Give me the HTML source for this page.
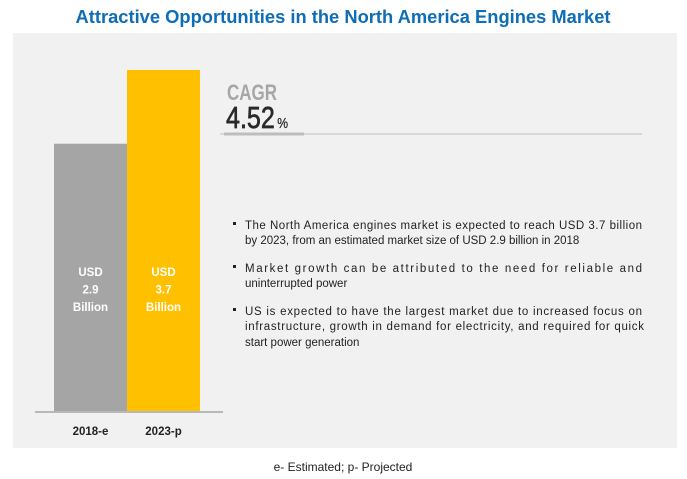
<!DOCTYPE html>
<html><head><meta charset="utf-8"><style>
html,body{margin:0;padding:0;background:#fff;}
svg{display:block;font-family:"Liberation Sans",sans-serif;}
</style></head><body>
<svg id="chart" width="687" height="479" viewBox="0 0 687 479">
<text x="343" y="23" text-anchor="middle" font-size="18" font-weight="bold" fill="#0d6db7" textLength="535" lengthAdjust="spacingAndGlyphs">Attractive Opportunities in the North America Engines Market</text>
<rect x="13" y="33" width="664" height="415" fill="#f1f1f1"/>
<g id="bars"></g>
<line x1="35" y1="412" x2="223" y2="412" stroke="#a6a6a6" stroke-width="1.5"/>
<text x="227" y="100" font-size="22" font-weight="bold" fill="#a6a6a6" textLength="50" lengthAdjust="spacingAndGlyphs">CAGR</text>
<text x="226" y="128" font-size="31" fill="#2a2a2a" stroke="#2a2a2a" stroke-width="0.7" textLength="62" lengthAdjust="spacingAndGlyphs">4.52<tspan font-size="15" stroke-width="0.3" dx="3">%</tspan></text>
<line x1="220" y1="134" x2="642" y2="134" stroke="#c0c0c0" stroke-width="1"/>
<line x1="224" y1="134" x2="304" y2="134" stroke="#bdbdbd" stroke-width="3"/>
<g font-size="11.5" fill="#222">
<rect x="233" y="222" width="3" height="3" fill="#222"/>
<text x="245" y="229" textLength="397" lengthAdjust="spacing">The North America engines market is expected to reach USD 3.7 billion</text>
<text x="245" y="244">by 2023, from an estimated market size of USD 2.9 billion in 2018</text>
<rect x="233" y="265" width="3" height="3" fill="#222"/>
<text x="245" y="272" textLength="397" lengthAdjust="spacing">Market growth can be attributed to the need for reliable and</text>
<text x="245" y="287">uninterrupted power</text>
<rect x="233" y="308" width="3" height="3" fill="#222"/>
<text x="245" y="315" textLength="397" lengthAdjust="spacing">US is expected to have the largest market due to increased focus on</text>
<text x="245" y="330" textLength="399" lengthAdjust="spacing">infrastructure, growth in demand for electricity, and required for quick</text>
<text x="245" y="346">start power generation</text>
</g>
<text x="343" y="471" text-anchor="middle" font-size="12" fill="#222">e- Estimated; p- Projected</text>
</svg>
<script>
const categories = ["2018-e", "2023-p"];
const values = [2.9, 3.7];
const valueLabels = ["2.9", "3.7"];
const colors = ["#a5a5a5", "#ffc000"];
const ns = "http://www.w3.org/2000/svg";
const g = document.getElementById("bars");
const baseY = 411, topY = 70, maxV = 3.7;
function yScale(v){ return baseY - (v / maxV) * (baseY - topY); }
function xScale(i){ return 54 + i * 73; }
const bw = 73;
categories.forEach((c, i) => {
  const r = document.createElementNS(ns, "rect");
  
  
  r.setAttribute("x", xScale(i));
  r.setAttribute("y", yScale(values[i]));
  r.setAttribute("width", bw);
  r.setAttribute("height", baseY - yScale(values[i]));
  r.setAttribute("fill", colors[i]);
  g.appendChild(r);
  const cx = xScale(i) + bw / 2;
  ["USD", valueLabels[i], "Billion"].forEach((t, k) => {
    const tx = document.createElementNS(ns, "text");
    
    
    tx.setAttribute("x", cx);
    tx.setAttribute("y", 276 + k * 17.5);
    tx.setAttribute("text-anchor", "middle");
    tx.setAttribute("font-size", "11.5");
    tx.setAttribute("font-weight", "bold");
    tx.setAttribute("fill", "#fff");
    tx.textContent = t;
    g.appendChild(tx);
  });
  const lb = document.createElementNS(ns, "text");
  
  
  lb.setAttribute("x", cx);
  lb.setAttribute("y", 435);
  lb.setAttribute("text-anchor", "middle");
  lb.setAttribute("font-size", "11.5");
  lb.setAttribute("font-weight", "bold");
  lb.setAttribute("fill", "#222");
  lb.textContent = c;
  g.appendChild(lb);
});
</script>
</body></html>
